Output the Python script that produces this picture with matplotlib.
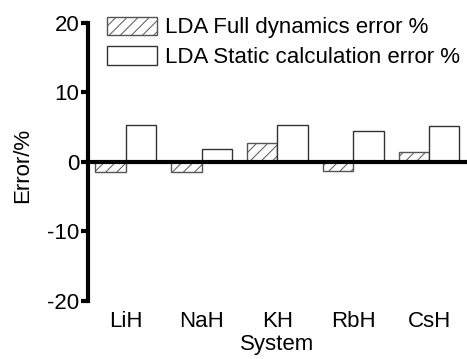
import numpy as np
import matplotlib
matplotlib.use('Agg')
import matplotlib.pyplot as plt

systems = ['LiH', 'NaH', 'KH', 'RbH', 'CsH']
full_dyn_err = [-1.45, -1.4, 2.7, -1.25, 1.4]
static_err = [5.3, 1.8, 5.3, 4.5, 5.2]

plt.rcParams['font.family'] = ['Liberation Sans', 'DejaVu Sans']
plt.rcParams['font.size'] = 16
plt.rcParams['hatch.linewidth'] = 0.7

fig = plt.figure(figsize=(4.67, 3.59), dpi=100)
ax = fig.add_axes([0.188, 0.162, 0.812, 0.774])

x = np.arange(len(systems))
w = 0.4
ax.bar(x - w / 2, full_dyn_err, w, facecolor='white', edgecolor='#555555',
       hatch='///', linewidth=1.0, label='LDA Full dynamics error %')
ax.bar(x + w / 2, static_err, w, facecolor='white', edgecolor='#333333',
       linewidth=1.0, label='LDA Static calculation error %')
ax.axhline(0, color='black', linewidth=3, zorder=3)

ax.set_xlim(-0.5, 4.5)
ax.set_ylim(-20, 20)
ax.set_yticks([-20, -10, 0, 10, 20])
ax.set_yticklabels(['-20', '-10', '0', '10', '20'])
ax.set_xticks(x)
ax.set_xticklabels(systems)

for s in ['top', 'right', 'bottom']:
    ax.spines[s].set_visible(False)
ax.spines['left'].set_linewidth(3)
ax.tick_params(axis='y', direction='out', length=5, width=3, pad=1)
ax.tick_params(axis='x', length=0, pad=7)

ax.set_xlabel('System', labelpad=2)
ax.set_ylabel('Error/%')
ax.yaxis.set_label_coords(-0.145, 0.486)

ax.legend(loc='upper left', bbox_to_anchor=(0.229, 0.954),
          bbox_transform=fig.transFigure, frameon=False, borderpad=0,
          handlelength=2.25, handleheight=0.9, handletextpad=0.35,
          labelspacing=0.35, borderaxespad=0)

fig.savefig('out.png', dpi=100)
